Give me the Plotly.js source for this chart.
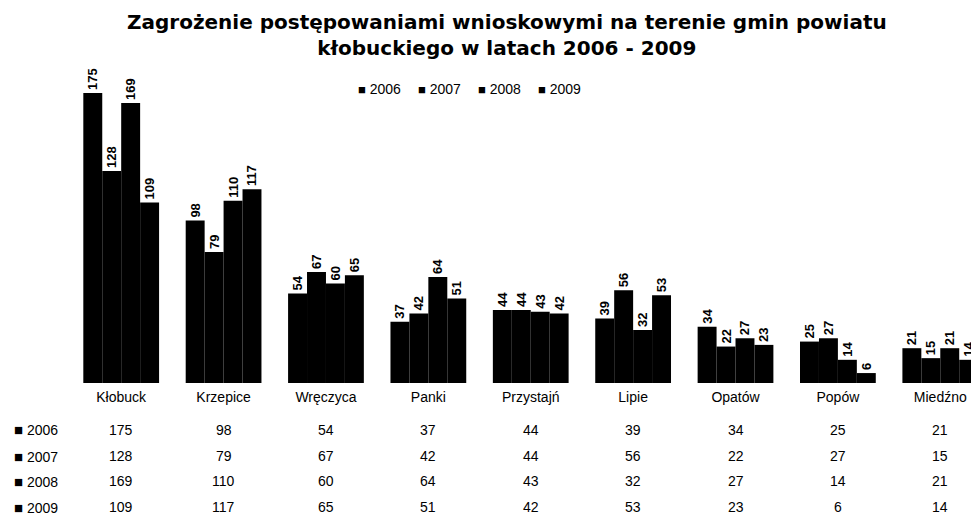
<!DOCTYPE html>
<html><head><meta charset="utf-8">
<script src="https://cdn.plot.ly/plotly-3.0.1.min.js"></script>
<style>body{margin:0;background:#fff}#chart{width:971px;height:517px}</style>
</head><body><div id="chart"></div>
<script>
const categories = ['Kłobuck','Krzepice','Wręczyca','Panki','Przystajń','Lipie','Opatów','Popów','Miedźno'];
const years = ['2006','2007','2008','2009'];
const v2006 = [175,98,54,37,44,39,34,25,21];
const v2007 = [128,79,67,42,44,56,22,27,15];
const v2008 = [169,110,60,64,43,32,27,14,21];
const v2009 = [109,117,65,51,42,53,23,6,14];
const series = [v2006,v2007,v2008,v2009];

const FONT = 'Liberation Sans, Arial, sans-serif';
const W = 971, H = 517;
const M = {l:70, r:0, t:60, b:134};
const plotH = H - M.t - M.b;
const plotW = W - M.l - M.r;
const pyToPaper = py => (H - M.b - py) / plotH;
const pxToPaper = px => (px - M.l) / plotW;

const traces = series.map((vals,i)=>({
  type:'bar', name: years[i], x: categories, y: vals, text: vals.map(String),
  textposition:'outside', textangle:-90, cliponaxis:false, constraintext:'none',
  textfont:{family:FONT, size:13, color:'#000', weight:'bold'},
  marker:{color:'#000', line:{width:0}}, hoverinfo:'x+y+name', showlegend:false
}));

const annotations = [];
// legend (drawn as text keys)
years.forEach((yr,i)=>{
  annotations.push({xref:'paper', yref:'paper', x:pxToPaper(356 + 60*i), y:pyToPaper(89),
    xanchor:'left', yanchor:'middle', showarrow:false,
    text:'<span style="font-size:13px">■</span> ' + yr, font:{family:FONT, size:14, color:'#000'}});
});
// data table
const rowY = [430, 456, 481, 507];
series.forEach((vals,i)=>{
  annotations.push({xref:'paper', yref:'paper', x:pxToPaper(12), y:pyToPaper(rowY[i]),
    xanchor:'left', yanchor:'middle', showarrow:false,
    text:'<span style="font-size:15px">■</span> '+years[i], font:{family:FONT, size:14, color:'#000'}});
  vals.forEach((v,j)=>{
    annotations.push({xref:'x', yref:'paper', x:categories[j], y:pyToPaper(rowY[i]),
      xanchor:'center', yanchor:'middle', showarrow:false,
      text:String(v), font:{family:FONT, size:14, color:'#000'}});
  });
});

const layout = {
  width:W, height:H, margin:M, paper_bgcolor:'#fff', plot_bgcolor:'#fff',
  title:{text:'<b>Zagrożenie postępowaniami wnioskowymi na terenie gmin powiatu<br>kłobuckiego w latach 2006 - 2009</b>',
    font:{family:'DejaVu Sans, Liberation Sans, sans-serif', size:20, color:'#000'}, x:0.522, xanchor:'center', y:1-29/H, yanchor:'top'},
  barmode:'group', bargap:0.26, bargroupgap:0,
  xaxis:{type:'category', range:[-0.5, 8.3], showgrid:false, zeroline:false, showline:false, ticks:'',
    ticklabelstandoff:4, tickfont:{family:FONT, size:14, color:'#000'}, fixedrange:true},
  yaxis:{range:[0, plotH/1.657], visible:false, fixedrange:true},
  showlegend:false,
  annotations: annotations
};

Plotly.newPlot('chart', traces, layout, {displayModeBar:false, staticPlot:true});
</script>
</body></html>
